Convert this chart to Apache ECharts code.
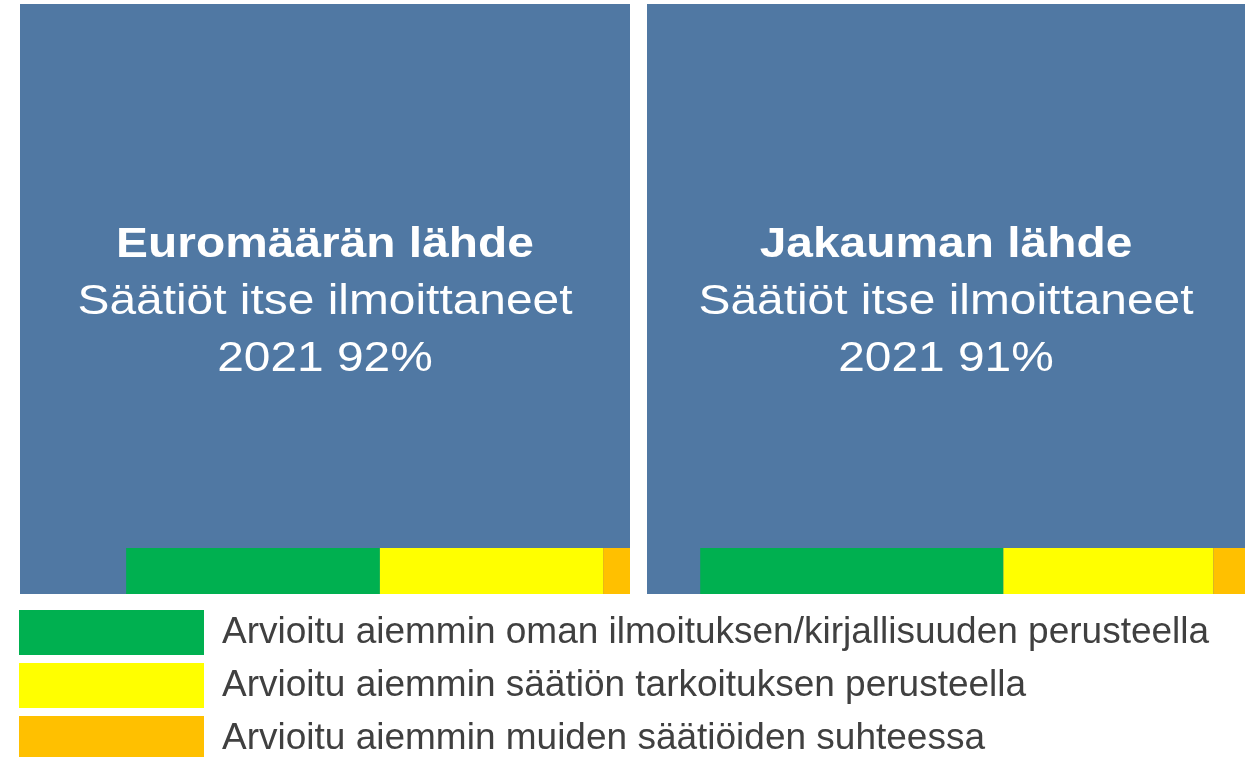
<!DOCTYPE html>
<html>
<head>
<meta charset="utf-8">
<script src="https://cdn.jsdelivr.net/npm/echarts@6/dist/echarts.min.js"></script>
<style>
  html, body { margin: 0; padding: 0; background: #fff; }
  #chart { width: 1251px; height: 757px; }
</style>
</head>
<body>
<div id="chart"></div>
<script>
// panels
const panelTitles = ["Euromäärän lähde", "Jakauman lähde"];
const panelSubtitle = "Säätiöt itse ilmoittaneet";
const panelYear = "2021";
const selfReportedPct = [92, 91];

// legend categories
const legendNames = [
    "Arvioitu aiemmin oman ilmoituksen/kirjallisuuden perusteella",
    "Arvioitu aiemmin säätiön tarkoituksen perusteella",
    "Arvioitu aiemmin muiden säätiöiden suhteessa",
];
// share of panel width, per panel (left, right)
const ownReportShare = [41.6, 50.7];
const purposeShare = [36.6, 35.1];
const otherShare = [4.4, 5.3];

const colors = ["#00B050", "#FFFF00", "#FFC000"];
const blue = "#5078A3";
const stripHeight = 7.8; // height of bottom strip, in % of the panel
const font = "'Liberation Sans', Arial, sans-serif";

const chart = echarts.init(document.getElementById("chart"));

function rectItem(params, api) {
    const p0 = api.coord([api.value(0), api.value(3)]);
    const p1 = api.coord([api.value(1), api.value(2)]);
    return {
        type: "rect",
        shape: { x: p0[0], y: p0[1], width: p1[0] - p0[0], height: p1[1] - p0[1] },
        style: api.style(),
    };
}

const grids = [
    { left: 20, top: 4, width: 610, height: 590 },
    { left: 647, top: 4, width: 598, height: 590 },
];
const xAxes = grids.map((g, i) => ({ gridIndex: i, type: "value", min: 0, max: 100, show: false }));
const yAxes = grids.map((g, i) => ({ gridIndex: i, type: "value", min: 0, max: 100, show: false }));

const series = [];
grids.forEach((g, i) => {
    // big blue block with the text
    series.push({
        type: "custom",
        name: "self",
        xAxisIndex: i,
        yAxisIndex: i,
        silent: true,
        encode: { x: [0, 1], y: [2, 3] },
        data: [[0, 100, 0, 100]],
        renderItem: function (params, api) {
            const box = rectItem(params, api);
            box.style = { fill: blue };
            const s = box.shape;
            return {
                type: "group",
                children: [
                    box,
                    {
                        type: "text",
                        x: s.x + s.width / 2,
                        y: s.y + s.height / 2 + 3,
                        scaleX: 1.14,
                        style: {
                            text: "{a|" + panelTitles[i] + "}\n{b|" + panelSubtitle + "}\n{b|" + panelYear + " " + selfReportedPct[i] + "%}",
                            align: "center",
                            verticalAlign: "middle",
                            rich: {
                                a: { fontFamily: font, fontWeight: "bold", fontSize: 42, lineHeight: 57, fill: "#fff", align: "center" },
                                b: { fontFamily: font, fontSize: 42, lineHeight: 57, fill: "#fff", align: "center" },
                            },
                        },
                    },
                ],
            };
        },
    });
    // bottom strip, right-aligned
    const shares = [ownReportShare[i], purposeShare[i], otherShare[i]];
    let end = 100;
    const extents = [];
    for (let k = shares.length - 1; k >= 0; k--) {
        extents[k] = [end - shares[k], end];
        end -= shares[k];
    }
    legendNames.forEach((name, k) => {
        series.push({
            type: "custom",
            name: name,
            xAxisIndex: i,
            yAxisIndex: i,
            itemStyle: { color: colors[k] },
            encode: { x: [0, 1], y: [2, 3] },
            data: [[extents[k][0], extents[k][1], 0, stripHeight]],
            renderItem: rectItem,
        });
    });
});

chart.setOption({
    animation: false,
    grid: grids,
    xAxis: xAxes,
    yAxis: yAxes,
    legend: {
        data: legendNames,
        orient: "vertical",
        left: 19,
        top: 610,
        height: 200,
        padding: 0,
        icon: "rect",
        itemWidth: 185,
        itemHeight: 45,
        itemGap: 8,
        selectedMode: false,
        textStyle: { fontFamily: font, fontSize: 37, color: "#404040", padding: [0, 0, 0, 13] },
    },
    series: series,
});
</script>
</body>
</html>
